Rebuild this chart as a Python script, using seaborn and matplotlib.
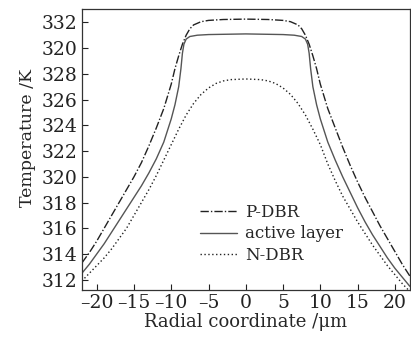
import numpy as np
import pandas as pd
import seaborn as sns
import matplotlib
matplotlib.use('Agg')
import matplotlib.pyplot as plt
from matplotlib.ticker import FuncFormatter

# radial coordinate (um) and temperature (K)
x_p = [-22, -21, -20, -19, -18, -17, -16, -15, -14, -13, -12, -11, -10, -9.5, -9, -8.5, -8, -7.5, -7, -6, -5, -3, 0,
       3, 5, 6, 7, 7.5, 8, 8.5, 9, 9.5, 10, 11, 12, 13, 14, 15, 16, 17, 18, 19, 20, 21, 22]
t_p = [313.3, 314.1, 315.0, 316.0, 317.0, 318.0, 319.0, 320.0, 321.1, 322.4, 323.8, 325.3, 327.2, 328.4, 329.4,
       330.3, 331.0, 331.5, 331.8, 332.05, 332.15, 332.22, 332.25,
       332.22, 332.15, 332.05, 331.8, 331.5, 331.0, 330.3, 329.4, 328.4, 327.2, 325.3, 323.8, 322.3, 320.9,
       319.6, 318.4, 317.3, 316.2, 315.2, 314.2, 313.2, 312.3]

x_a = [-22, -21, -20, -19, -18, -17, -16, -15, -14, -13, -12, -11, -10.5, -10, -9.5, -9, -8.7, -8.5, -8.3, -8,
       -7.5, -6.5, -5, 0, 5, 6.5, 7.5, 8, 8.3, 8.5, 8.7, 9, 9.5, 10, 10.5, 11, 12, 13, 14, 15, 16, 17, 18, 19,
       20, 21, 22]
t_a = [312.5, 313.2, 314.0, 314.8, 315.7, 316.6, 317.5, 318.4, 319.3, 320.3, 321.4, 322.7, 323.6, 324.5, 325.6,
       327.0, 328.4, 329.6, 330.3, 330.7, 330.9, 331.0, 331.05, 331.1, 331.05, 331.0, 330.9, 330.7, 330.3,
       329.6, 328.4, 327.0, 325.6, 324.5, 323.6, 322.7, 321.3, 320.0, 318.8, 317.6, 316.5, 315.5, 314.6,
       313.7, 312.9, 312.2, 311.5]

x_n = [-22, -21, -20, -19, -18, -17, -16, -15, -14, -13, -12, -11, -10, -9, -8, -7, -6, -5, -4, -3, -2, 0,
       2, 3, 4, 5, 6, 7, 8, 9, 10, 11, 12, 13, 14, 15, 16, 17, 18, 19, 20, 21, 22]
t_n = [311.9, 312.5, 313.1, 313.7, 314.4, 315.2, 316.0, 317.0, 318.0, 319.0, 320.1, 321.3, 322.5, 323.7, 324.8,
       325.7, 326.4, 326.9, 327.25, 327.45, 327.55, 327.6, 327.55, 327.45, 327.25, 326.9, 326.4, 325.7,
       324.8, 323.7, 322.5, 321.0, 319.7, 318.5, 317.5, 316.5, 315.6, 314.7, 313.9, 313.1, 312.4, 311.7,
       311.1]

series_names = ['P-DBR', 'active layer', 'N-DBR']
x_ticks = [-20, -15, -10, -5, 0, 5, 10, 15, 20]
y_ticks = [332, 330, 328, 326, 324, 322, 320, 318, 316, 314, 312]
y_tick_labels = ['332', '320', '328', '326', '324', '322', '320', '318', '316', '314', '312']

df = pd.concat([
    pd.DataFrame({'x': x_p, 'T': t_p, 'layer': series_names[0]}),
    pd.DataFrame({'x': x_a, 'T': t_a, 'layer': series_names[1]}),
    pd.DataFrame({'x': x_n, 'T': t_n, 'layer': series_names[2]}),
], ignore_index=True)

sns.set_style('ticks')
plt.rcParams['font.family'] = ['DejaVu Serif']
plt.rcParams['mathtext.fontset'] = 'dejavuserif'

fig = plt.figure(figsize=(4.11, 3.39), dpi=100)
ax = fig.add_axes([0.199, 0.145, 0.798, 0.829])

dashes = {'P-DBR': (6, 1.5, 1, 1.5), 'active layer': '', 'N-DBR': (1, 1.8)}
sns.lineplot(data=df, x='x', y='T', hue='layer', style='layer', dashes=dashes,
             palette=['#222222', '#555555', '#222222'], linewidth=1.0, sort=False,
             estimator=None, ax=ax)

ax.set_xlim(-22, 22)
ax.set_ylim(311.22, 333.05)
ax.set_xticks(x_ticks)
# narrow dash as minus sign, like the original typesetting
ax.xaxis.set_major_formatter(FuncFormatter(lambda v, _: f'{v:.0f}'.replace('-', '–')))
ax.set_yticks(y_ticks)
ax.set_yticklabels(y_tick_labels)
ax.tick_params(direction='in', length=4, width=0.8, labelsize=13.5, colors='#222222', pad=3)
for s in ax.spines.values():
    s.set_linewidth(0.9)
    s.set_color('#333333')

ax.set_xlabel('Radial coordinate /μm', fontsize=13, labelpad=1)
ax.set_ylabel('Temperature /K', fontsize=12.5, labelpad=2)
ax.yaxis.set_label_coords(-0.14, 0.54)

ax.legend(frameon=False, fontsize=12, loc='lower left', bbox_to_anchor=(0.34, 0.07),
          handlelength=2.2, handletextpad=0.5, labelspacing=0.25, borderaxespad=0)

fig.savefig('out.png', dpi=100)
